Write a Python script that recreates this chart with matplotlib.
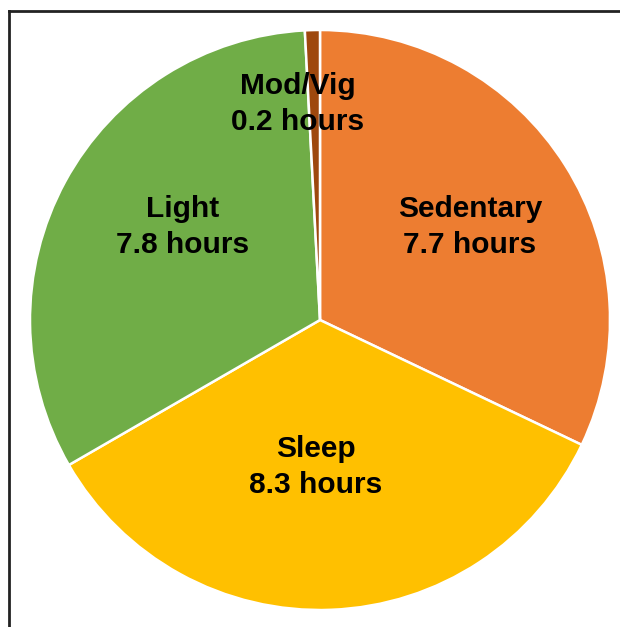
import matplotlib
matplotlib.use("Agg")
from matplotlib import pyplot as plt
from matplotlib.lines import Line2D

# time-use data (hours per day), clockwise from 12 o'clock
categories = ["Sedentary", "Sleep", "Light", "Mod/Vig"]
hours = [7.7, 8.3, 7.8, 0.2]
colors = ["#ED7D31", "#FFC000", "#70AD47", "#9E480E"]

W, H = 620, 627
cx, cy, R = 320, H - 320, 290

fig = plt.figure(figsize=(W / 100, H / 100), dpi=100)
ax = fig.add_axes([0, 0, 1, 1])

ax.pie(hours, colors=colors, startangle=90, counterclock=False,
       center=(cx, cy), radius=R, frame=True,
       wedgeprops=dict(edgecolor="white", linewidth=1.8))
ax.set_xlim(0, W)
ax.set_ylim(0, H)
ax.set_aspect("equal")
ax.axis("off")

# label offsets from the pie centre (pixels)
offsets = [(150, 93), (-4, -147), (-137, 93), (-22, 216)]
for name, h, (dx, dy) in zip(categories, hours, offsets):
    ax.text(cx + dx, cy + dy, f"{name}\n{h} hours", ha="center", va="center",
            fontsize=21.5, fontweight="bold", family="Liberation Sans",
            linespacing=1.4, color="#000000")

# partial frame of the original figure
fig.add_artist(Line2D([8.5 / W, 1], [1 - 10.5 / H, 1 - 10.5 / H],
                      transform=fig.transFigure, color="#222222", lw=2))
fig.add_artist(Line2D([8.5 / W, 8.5 / W], [0, 1 - 10.5 / H],
                      transform=fig.transFigure, color="#222222", lw=2))

fig.savefig("out.png", dpi=100)
